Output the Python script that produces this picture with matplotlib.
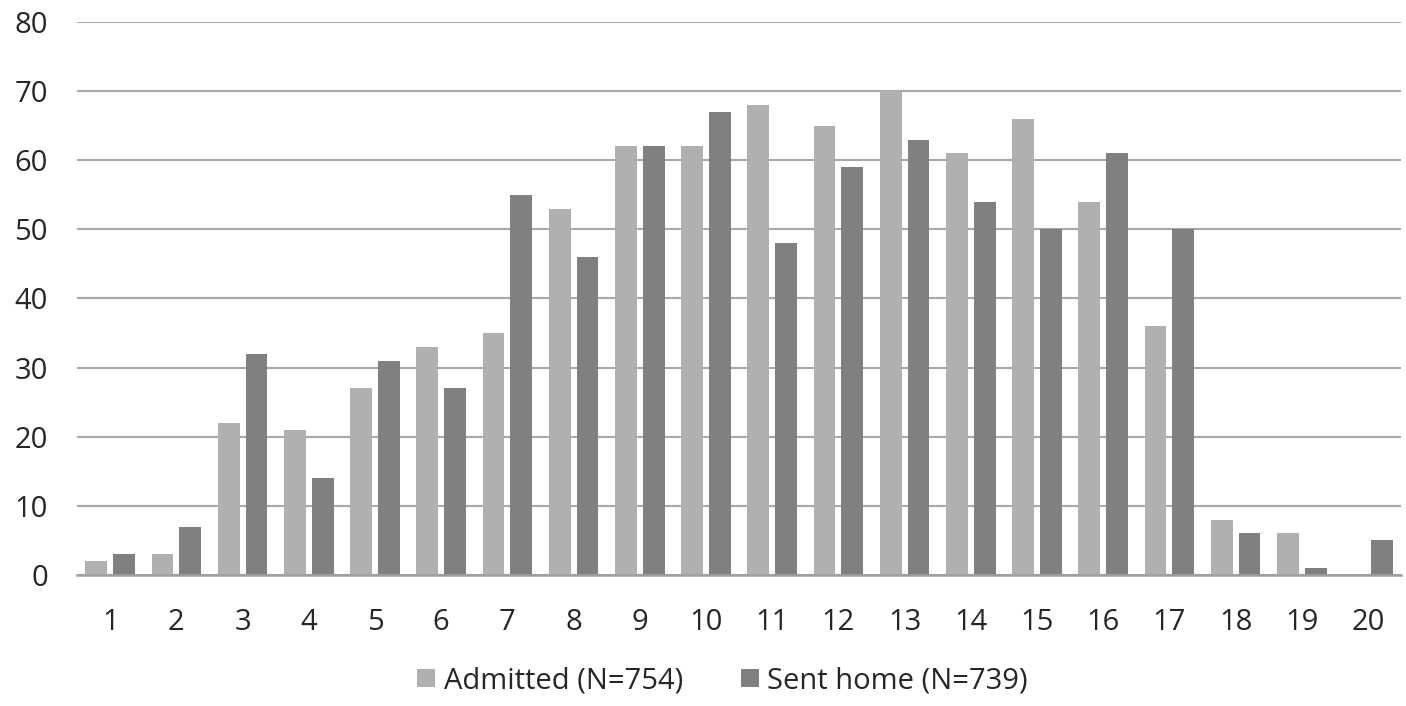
import numpy as np
import matplotlib.pyplot as plt

# Werte
categories = [str(i) for i in range(1, 21)]
admitted = [2, 3, 22, 21, 27, 33, 35, 53, 62, 62, 68, 65, 70, 61, 66, 54, 36, 8, 6, 0]
sent_home = [3, 7, 32, 14, 31, 27, 55, 46, 62, 67, 48, 59, 63, 54, 50, 61, 50, 6, 1, 5]
y_ticks = [0, 10, 20, 30, 40, 50, 60, 70, 80]
labels = ['Admitted (N=754)', 'Sent home (N=739)']

fig = plt.figure(figsize=(14.06, 7.06), dpi=100)
ax = fig.add_axes([0.0548, 0.1856, 0.9417, 0.7832])

x = np.arange(len(categories))
w = 0.33
ax.bar(x - 0.21, admitted, w, color='#b0b0b0', label=labels[0], zorder=3)
ax.bar(x + 0.21, sent_home, w, color='#808080', label=labels[1], zorder=3)

ax.set_xlim(-0.5, len(categories) - 0.5)
ax.set_ylim(0, 80)
ax.set_yticks(y_ticks)
ax.set_xticks(x)
ax.set_xticklabels(categories)

ax.yaxis.grid(True, color='#a8a8a8', linewidth=1.5, zorder=0)
ax.set_axisbelow(True)
for s in ['top', 'right', 'left']:
    ax.spines[s].set_visible(False)
ax.spines['bottom'].set_color('#a0a0a0')
ax.spines['bottom'].set_linewidth(1.8)
ax.spines['bottom'].set_zorder(4)

for lab in ax.get_xticklabels() + ax.get_yticklabels():
    lab.set_fontfamily('Open Sans')
ax.tick_params(axis='both', length=0, labelsize=21, labelcolor='#262626')
ax.tick_params(axis='y', pad=21)
ax.tick_params(axis='x', pad=24)

fig.legend(loc='lower center', ncol=2, frameon=False, bbox_to_anchor=(0.514, -0.022),
           prop={'family': 'Open Sans', 'size': 21}, handlelength=0.6, handleheight=0.6,
           handletextpad=0.3, columnspacing=2.0, labelcolor='#262626')

fig.savefig('out.png', dpi=100, facecolor='white')
